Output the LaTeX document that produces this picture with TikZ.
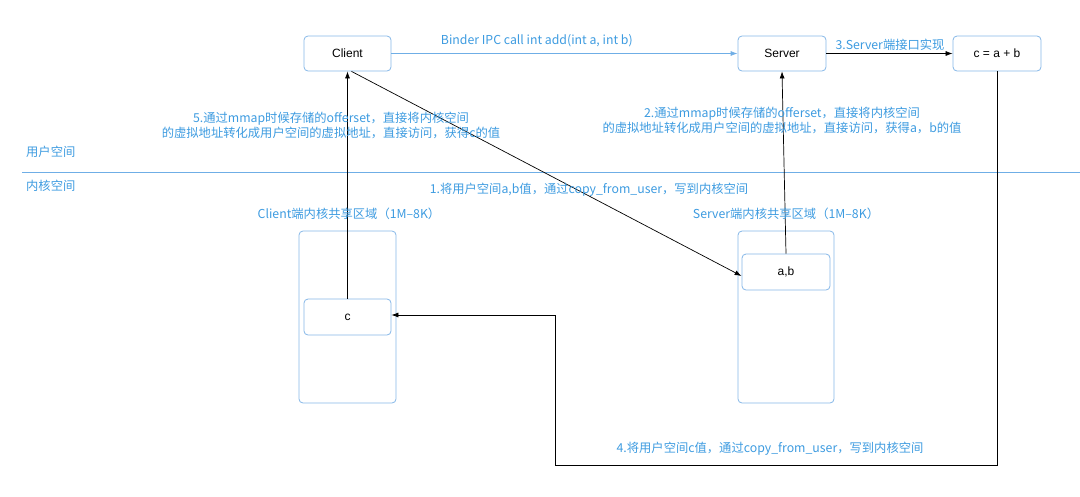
\documentclass[tikz,border=0pt]{standalone}
\usepackage{fontspec}
\setmainfont{Noto Sans CJK SC}
\newfontfamily\latinf{Liberation Sans}
\usetikzlibrary{arrows.meta}
\definecolor{txtblue}{HTML}{3D9BE0}
\definecolor{lineblue}{HTML}{6FAEE6}
\definecolor{boxblue}{HTML}{86B8E8}
\begin{document}
\begin{tikzpicture}[x=1pt,y=-1pt,
  box/.style={draw=boxblue,rounded corners=4pt,line width=0.8pt,fill=white,inner sep=0pt},
  lbl/.style={text=txtblue,font=\fontsize{12.3}{14.5}\selectfont,inner sep=0pt},
  blk/.style={font=\latinf\fontsize{12}{14}\selectfont},
  arr/.style={-{Latex[length=7pt,width=5pt]},line width=0.7pt,black}]
\useasboundingbox (0,0) rectangle (1080,496);
% region boxes
\node[box,minimum width=97pt,minimum height=172pt] (creg) at (347.5,317) {};
\node[box,minimum width=96pt,minimum height=172pt] (sreg) at (786,317) {};
% top boxes
\node[box,blk,minimum width=87pt,minimum height=35pt] (client) at (347.5,53.5) {Client};
\node[box,blk,minimum width=88pt,minimum height=35pt] (server) at (782,53.5) {Server};
\node[box,blk,minimum width=88pt,minimum height=35pt] (sum) at (997,53.5) {c = a + b};
\node[box,blk,minimum width=87pt,minimum height=36pt] (cbox) at (347.5,317) {c};
\node[box,blk,minimum width=88pt,minimum height=36pt] (abbox) at (786,272) {a,b};
% separator
\coordinate (sepL) at (22,172);
\coordinate (sepR) at (1080,172);
\draw[lineblue,line width=0.8pt] (sepL) -- (sepR);
\node[lbl,anchor=west] (user) at (26,152) {用户空间};
\node[lbl,anchor=west] (kern) at (26,186) {内核空间};
% connectors
\draw[-{Latex[length=7pt,width=5pt]},lineblue,line width=0.8pt] (client.east) -- (server.west)
  node[pos=0.42,above=6pt,lbl] (l0) {Binder IPC call int add(int a, int b)};
\draw[arr] (server.east) -- (sum.west);
\node[lbl,anchor=south] (l3) at (890,51) {3.Server端接口实现};
\draw[arr] (cbox.north) -- (client.south);
\draw[arr] (abbox.north) -- (server.south);
\draw[arr] ([xshift=4pt]client.south) -- ([yshift=-4pt]abbox.west);
\coordinate (p1) at (997,465);
\coordinate (p2) at (555,465);
\coordinate (p3) at (555,315);
\draw[arr] (sum.south) -- (p1) -- (p2) -- (p3) -- (p3 -| cbox.east);
% labels
\node[lbl,align=center] (l5) at (331,125.5) {5.通过mmap时候存储的offerset，直接将内核空间\\的虚拟地址转化成用户空间的虚拟地址，直接访问，获得c的值};
\node[lbl,align=center] (l2) at (782,120.5) {2.通过mmap时候存储的offerset，直接将内核空间\\的虚拟地址转化成用户空间的虚拟地址，直接访问，获得a，b的值};
\node[lbl] (l1) at (589,190) {1.将用户空间a,b值，通过copy\_from\_user，写到内核空间};
\node[lbl] (cl) at (349,214) {Client端内核共享区域（1M–8K）};
\node[lbl] (sl) at (786,214) {Server端内核共享区域（1M–8K）};
\node[lbl] (l4) at (770,449) {4.将用户空间c值，通过copy\_from\_user，写到内核空间};
\end{tikzpicture}
\end{document}
